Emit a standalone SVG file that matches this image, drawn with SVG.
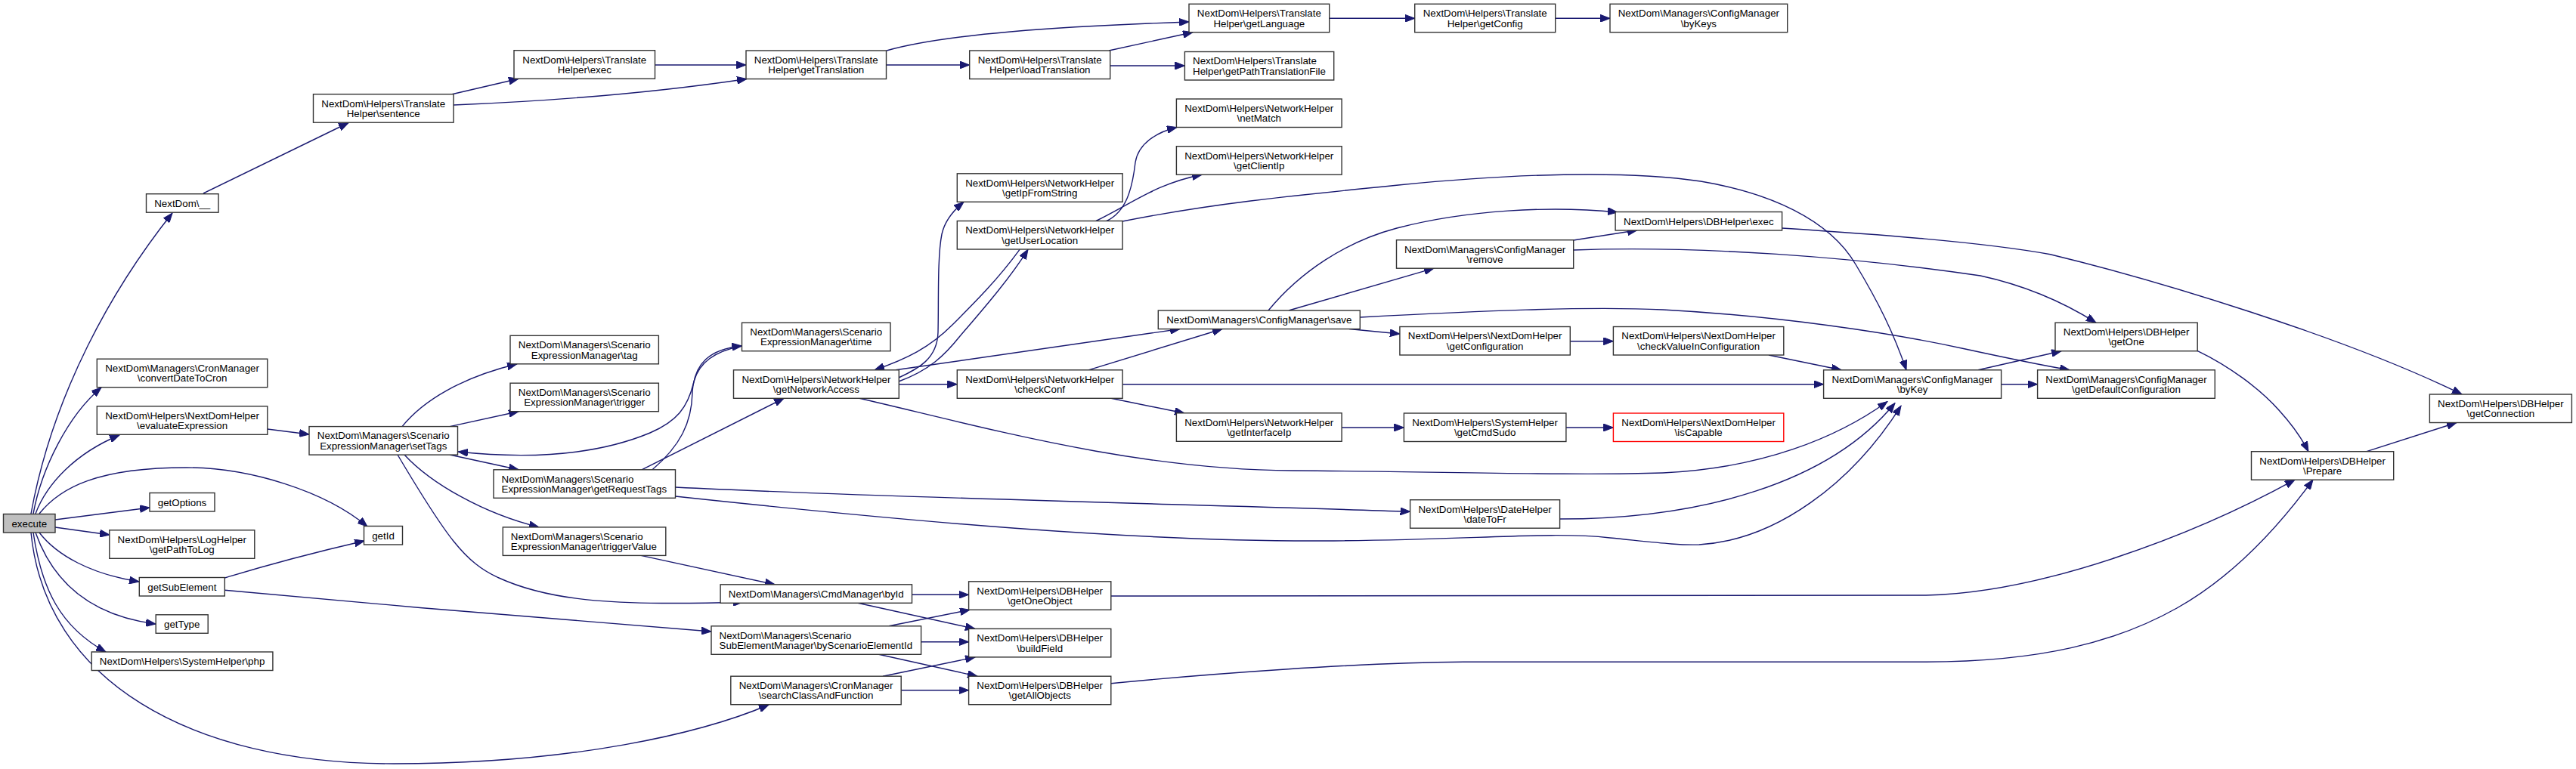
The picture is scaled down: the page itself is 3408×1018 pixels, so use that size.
<svg xmlns="http://www.w3.org/2000/svg" width="3408" height="1018" viewBox="0 0 3408 1018">
<style>
.n rect{fill:#fff;stroke:#333;stroke-width:1.4}
.n.root rect{fill:#bfbfbf}
.n.red rect{stroke:#ff0000}
.n text{font-family:"Liberation Sans",Arial,Helvetica,sans-serif;font-size:13.33px;fill:#000;text-anchor:middle}
.n text.l{text-anchor:start}
.e path{fill:none;stroke:#191970;stroke-width:1.4;marker-end:url(#arr)}
</style>
<defs>
<marker id="arr" markerUnits="userSpaceOnUse" markerWidth="14" markerHeight="10" refX="13" refY="5" orient="auto">
<path d="M0,0 L13,5 L0,10 z" fill="#191970" stroke="#191970" stroke-width="1"/>
</marker>
</defs>
<rect width="3408" height="1018" fill="#fff"/>
<g id="edges" class="e">
<path d="M41,680 C70,520 150,380 228,282"/>
<path d="M44,680 C55,620 90,550 134,513"/>
<path d="M47,680 C62,640 100,600 158,576"/>
<path d="M52,680 C80,645 130,619 247,619 C330,619 430,650 486,697"/>
<path d="M73,688 L198,672"/>
<path d="M73,698 L145,708"/>
<path d="M52,705 C75,735 120,760 184,770"/>
<path d="M47,705 C70,770 120,815 206,826"/>
<path d="M44,705 C55,780 80,830 140,863"/>
<path d="M41,705 C60,900 250,1011 521,1011 C760,1011 930,970 1017,933"/>
<path d="M269,256 L461,162.5"/>
<path d="M598,124.7 L686,104.2"/>
<path d="M600,139 C700,135 850,125 988,104.5"/>
<path d="M866.5,86 L987,86"/>
<path d="M1173,67 C1250,45 1400,35 1573,29"/>
<path d="M1172.5,86 L1282.7,86"/>
<path d="M1467,67 L1578,42.8"/>
<path d="M1468.7,87 L1567.4,87"/>
<path d="M1758.7,24.3 L1871.7,24.3"/>
<path d="M2057.6,24.3 L2130,24.3"/>
<path d="M353.8,568 L409,575"/>
<path d="M532,564.6 C560,530 610,500 684,481.8"/>
<path d="M595,564.6 L686,544.7"/>
<path d="M595,602 L686,621.8"/>
<path d="M535,602 C570,640 640,680 713,697.9"/>
<path d="M526,602 C590,710 615,745 660,765 C730,797 820,802 983,797"/>
<path d="M849,621.8 L1037,527.3"/>
<path d="M863,621.8 C900,590 915,560 916,520 C918,480 940,462 981.5,458"/>
<path d="M981.5,458 C945,465 925,480 918,505 C910,540 895,558 860,573 C800,598 720,610 606,598"/>
<path d="M893.5,645 C1200,660 1600,668 1865.6,677.3"/>
<path d="M893.5,657 C1200,690 1500,717 1750,716 C1950,715 2050,703 2130,712 C2190,718 2220,722 2248,721 C2350,715 2450,640 2515,537.3"/>
<path d="M2063.6,687 C2250,687 2420,640 2507,533.5"/>
<path d="M1137,527.3 C1300,565 1500,622 1710,623 C1900,624 2080,630 2200,626 C2330,620 2430,580 2497,531.5"/>
<path d="M1189,500 C1215,488 1240,475 1241,440 C1242,400 1240,340 1246,310 C1250,292 1262,278 1275,267.5"/>
<path d="M1189,505 C1230,490 1250,470 1270,445 C1300,410 1335,370 1360,330.3"/>
<path d="M1349,330.3 C1320,370 1290,400 1260,430 C1230,460 1200,475 1157,489.8"/>
<path d="M1185,489.8 L1561,435.5"/>
<path d="M1189.3,508.7 L1266.3,508.7"/>
<path d="M1440,489.8 L1617,435.5"/>
<path d="M1485.1,508.7 L2412.6,508.7"/>
<path d="M1470,527.3 L1567,547"/>
<path d="M1775.1,566 L1857.4,566"/>
<path d="M2071.9,566 L2134.4,566"/>
<path d="M1464,292.5 C1490,280 1498,250 1502,215 C1506,190 1530,175 1557,168.5"/>
<path d="M1450,292.5 C1500,268 1530,243 1590,231.2"/>
<path d="M1485,293 C1600,270 1700,260 1850,245 C2000,230 2150,225 2250,240 C2340,255 2420,290 2455,350 C2485,400 2505,440 2522,489.8"/>
<path d="M1678,411 C1720,360 1780,320 1848,302 C1940,278 2050,272 2140,281"/>
<path d="M1705,411 L1897,355.2"/>
<path d="M1799.3,420 C1950,412 2100,405 2200,410 C2350,418 2500,440 2600,462 C2660,475 2710,485 2738,489.8"/>
<path d="M2081.7,318 L2166,304.8"/>
<path d="M2081.7,331 C2250,325 2450,340 2620,365 C2680,378 2730,400 2773,427.2"/>
<path d="M1785,435.5 L1851.9,442"/>
<path d="M2077.3,451.7 L2134.4,451.7"/>
<path d="M2340,470 L2436,489.8"/>
<path d="M2617,489.8 L2727,464.7"/>
<path d="M2647.6,508.7 L2695.6,508.7"/>
<path d="M2357.6,302 C2480,310 2620,320 2712.5,336.7 C2850,370 3100,445 3257,522"/>
<path d="M2907,464.3 C2950,485 2990,515 3015,543 C3035,565 3045,580 3054,597.7"/>
<path d="M3131,597.7 L3250,559.5"/>
<path d="M1469.8,789 C2000,789 2400,790 2548,788 C2700,785 2900,710 3036,635.2"/>
<path d="M1469.8,904.7 C1600,892 1800,877 1936,876.3 L2548,876.3 C2700,876 2800,850 2880,805 C2960,760 3020,690 3060,635.2"/>
<path d="M848,735.4 L1025,773.8"/>
<path d="M297.3,765 C340,752 400,735 482,716"/>
<path d="M297.3,781.3 C500,800 800,826 941,836"/>
<path d="M1206.5,787.3 L1281.6,787.3"/>
<path d="M1135,798.3 L1290,832.4"/>
<path d="M1176,828.8 L1283,807.3"/>
<path d="M1218.6,849.7 L1281.6,849.7"/>
<path d="M1162.6,866.3 L1293,895.2"/>
<path d="M1168,895.2 L1290,870"/>
<path d="M1192.2,913.7 L1281.6,913.7"/>
</g>
<g id="execute" class="n root"><rect x="4.5" y="680.5" width="68.5" height="24.5"/><text x="38.75" y="697.5">execute</text></g>
<g id="nextdom__" class="n"><rect x="193.5" y="256.7" width="95.5" height="24.5"/><text x="241.25" y="273.7">NextDom\__</text></g>
<g id="th_sentence" class="n"><rect x="414.5" y="124.7" width="185.5" height="37.5"/><text x="507.25" y="141.5">NextDom\Helpers\Translate</text><text x="507.25" y="154.9">Helper\sentence</text></g>
<g id="th_exec" class="n"><rect x="680" y="66.7" width="186.5" height="37.5"/><text x="773.25" y="83.5">NextDom\Helpers\Translate</text><text x="773.25" y="96.9">Helper\exec</text></g>
<g id="th_getTranslation" class="n"><rect x="987" y="67" width="185.5" height="37.5"/><text x="1079.75" y="83.8">NextDom\Helpers\Translate</text><text x="1079.75" y="97.2">Helper\getTranslation</text></g>
<g id="th_loadTranslation" class="n"><rect x="1282.7" y="67" width="186" height="37.5"/><text x="1375.7" y="83.8">NextDom\Helpers\Translate</text><text x="1375.7" y="97.2">Helper\loadTranslation</text></g>
<g id="th_getLanguage" class="n"><rect x="1573" y="5.3" width="185.7" height="37.5"/><text x="1665.85" y="22.1">NextDom\Helpers\Translate</text><text x="1665.85" y="35.5">Helper\getLanguage</text></g>
<g id="th_getPathTranslationFile" class="n"><rect x="1567.4" y="68.5" width="197.3" height="37.5"/><text class="l" x="1578" y="85.3">NextDom\Helpers\Translate</text><text class="l" x="1578" y="98.7">Helper\getPathTranslationFile</text></g>
<g id="th_getConfig" class="n"><rect x="1871.7" y="5.3" width="186" height="37.5"/><text x="1964.7" y="22.1">NextDom\Helpers\Translate</text><text x="1964.7" y="35.5">Helper\getConfig</text></g>
<g id="cm_byKeys" class="n"><rect x="2130" y="5.3" width="234.7" height="37.5"/><text x="2247.35" y="22.1">NextDom\Managers\ConfigManager</text><text x="2247.35" y="35.5">\byKeys</text></g>
<g id="nh_netMatch" class="n"><rect x="1556.4" y="131" width="218.7" height="37.5"/><text x="1665.75" y="147.8">NextDom\Helpers\NetworkHelper</text><text x="1665.75" y="161.2">\netMatch</text></g>
<g id="nh_getClientIp" class="n"><rect x="1556.4" y="193.7" width="218.7" height="37.5"/><text x="1665.75" y="210.5">NextDom\Helpers\NetworkHelper</text><text x="1665.75" y="223.9">\getClientIp</text></g>
<g id="nh_getIpFromString" class="n"><rect x="1266.3" y="229.8" width="218.8" height="37.5"/><text x="1375.7" y="246.6">NextDom\Helpers\NetworkHelper</text><text x="1375.7" y="260">\getIpFromString</text></g>
<g id="nh_getUserLocation" class="n"><rect x="1266.3" y="292.5" width="218.8" height="37.5"/><text x="1375.7" y="309.3">NextDom\Helpers\NetworkHelper</text><text x="1375.7" y="322.7">\getUserLocation</text></g>
<g id="db_exec" class="n"><rect x="2137.1" y="280.5" width="220.5" height="24.5"/><text x="2247.35" y="297.5">NextDom\Helpers\DBHelper\exec</text></g>
<g id="cm_remove" class="n"><rect x="1847.5" y="317.7" width="234.2" height="37.5"/><text x="1964.6" y="334.5">NextDom\Managers\ConfigManager</text><text x="1964.6" y="347.9">\remove</text></g>
<g id="cm_save" class="n"><rect x="1532.3" y="411" width="267" height="24.5"/><text x="1665.8" y="428">NextDom\Managers\ConfigManager\save</text></g>
<g id="sem_time" class="n"><rect x="981.5" y="427.2" width="196.5" height="37.5"/><text x="1079.75" y="444">NextDom\Managers\Scenario</text><text x="1079.75" y="457.4">ExpressionManager\time</text></g>
<g id="db_getOne" class="n"><rect x="2719" y="427.2" width="188.2" height="37.5"/><text x="2813.1" y="444">NextDom\Helpers\DBHelper</text><text x="2813.1" y="457.4">\getOne</text></g>
<g id="ndh_getConfiguration" class="n"><rect x="1851.9" y="432.5" width="225.4" height="37.5"/><text x="1964.6" y="449.3">NextDom\Helpers\NextDomHelper</text><text x="1964.6" y="462.7">\getConfiguration</text></g>
<g id="ndh_checkValueInConfiguration" class="n"><rect x="2134.4" y="432.5" width="225.4" height="37.5"/><text x="2247.1" y="449.3">NextDom\Helpers\NextDomHelper</text><text x="2247.1" y="462.7">\checkValueInConfiguration</text></g>
<g id="nh_getNetworkAccess" class="n"><rect x="970.5" y="489.8" width="218.8" height="37.5"/><text x="1079.9" y="506.6">NextDom\Helpers\NetworkHelper</text><text x="1079.9" y="520">\getNetworkAccess</text></g>
<g id="nh_checkConf" class="n"><rect x="1266.3" y="489.8" width="218.8" height="37.5"/><text x="1375.7" y="506.6">NextDom\Helpers\NetworkHelper</text><text x="1375.7" y="520">\checkConf</text></g>
<g id="cm_byKey" class="n"><rect x="2412.6" y="489.8" width="235" height="37.5"/><text x="2530.1" y="506.6">NextDom\Managers\ConfigManager</text><text x="2530.1" y="520">\byKey</text></g>
<g id="cm_getDefaultConfiguration" class="n"><rect x="2695.6" y="489.8" width="234.7" height="37.5"/><text x="2812.95" y="506.6">NextDom\Managers\ConfigManager</text><text x="2812.95" y="520">\getDefaultConfiguration</text></g>
<g id="db_getConnection" class="n"><rect x="3214.4" y="522" width="188" height="37.5"/><text x="3308.4" y="538.8">NextDom\Helpers\DBHelper</text><text x="3308.4" y="552.2">\getConnection</text></g>
<g id="nh_getInterfaceIp" class="n"><rect x="1556.4" y="546.8" width="218.7" height="37.5"/><text x="1665.75" y="563.6">NextDom\Helpers\NetworkHelper</text><text x="1665.75" y="577">\getInterfaceIp</text></g>
<g id="sh_getCmdSudo" class="n"><rect x="1857.4" y="547" width="214.5" height="37.5"/><text x="1964.65" y="563.8">NextDom\Helpers\SystemHelper</text><text x="1964.65" y="577.2">\getCmdSudo</text></g>
<g id="ndh_isCapable" class="n red"><rect x="2134.4" y="547" width="225.4" height="37.5"/><text x="2247.1" y="563.8">NextDom\Helpers\NextDomHelper</text><text x="2247.1" y="577.2">\isCapable</text></g>
<g id="db_Prepare" class="n"><rect x="2978.5" y="597.7" width="188.2" height="37.5"/><text x="3072.6" y="614.5">NextDom\Helpers\DBHelper</text><text x="3072.6" y="627.9">\Prepare</text></g>
<g id="dh_dateToFr" class="n"><rect x="1865.6" y="661.7" width="198" height="37.5"/><text x="1964.6" y="678.5">NextDom\Helpers\DateHelper</text><text x="1964.6" y="691.9">\dateToFr</text></g>
<g id="sem_tag" class="n"><rect x="675" y="444.3" width="196.4" height="37.5"/><text x="773.2" y="461.1">NextDom\Managers\Scenario</text><text x="773.2" y="474.5">ExpressionManager\tag</text></g>
<g id="sem_trigger" class="n"><rect x="675" y="507.2" width="196.4" height="37.5"/><text x="773.2" y="524">NextDom\Managers\Scenario</text><text x="773.2" y="537.4">ExpressionManager\trigger</text></g>
<g id="crm_convertDateToCron" class="n"><rect x="128.3" y="475.2" width="225.5" height="37.5"/><text x="241.05" y="492">NextDom\Managers\CronManager</text><text x="241.05" y="505.4">\convertDateToCron</text></g>
<g id="ndh_evaluateExpression" class="n"><rect x="128.3" y="537.8" width="225.5" height="37.5"/><text x="241.05" y="554.6">NextDom\Helpers\NextDomHelper</text><text x="241.05" y="568">\evaluateExpression</text></g>
<g id="sem_setTags" class="n"><rect x="409" y="564.6" width="196.5" height="37.5"/><text x="507.25" y="581.4">NextDom\Managers\Scenario</text><text x="507.25" y="594.8">ExpressionManager\setTags</text></g>
<g id="sem_getRequestTags" class="n"><rect x="653" y="621.8" width="240.5" height="37.5"/><text class="l" x="663.5" y="638.6">NextDom\Managers\Scenario</text><text class="l" x="663.5" y="652">ExpressionManager\getRequestTags</text></g>
<g id="sem_triggerValue" class="n"><rect x="665.3" y="697.9" width="215.5" height="37.5"/><text class="l" x="675.8" y="714.7">NextDom\Managers\Scenario</text><text class="l" x="675.8" y="728.1">ExpressionManager\triggerValue</text></g>
<g id="getOptions" class="n"><rect x="198" y="652.5" width="86" height="24.5"/><text x="241" y="669.5">getOptions</text></g>
<g id="lh_getPathToLog" class="n"><rect x="144.8" y="701.8" width="192" height="37.5"/><text x="240.8" y="718.6">NextDom\Helpers\LogHelper</text><text x="240.8" y="732">\getPathToLog</text></g>
<g id="getId" class="n"><rect x="481.5" y="696.5" width="51" height="24.5"/><text x="507" y="713.5">getId</text></g>
<g id="getSubElement" class="n"><rect x="184.3" y="764.5" width="113" height="24.5"/><text x="240.8" y="781.5">getSubElement</text></g>
<g id="getType" class="n"><rect x="206.2" y="813.8" width="69" height="24.5"/><text x="240.7" y="830.8">getType</text></g>
<g id="sh_php" class="n"><rect x="121.2" y="863" width="239.7" height="24.5"/><text x="241.05" y="880">NextDom\Helpers\SystemHelper\php</text></g>
<g id="cmd_byId" class="n"><rect x="953.1" y="773.8" width="253.4" height="24.5"/><text x="1079.8" y="790.8">NextDom\Managers\CmdManager\byId</text></g>
<g id="db_getOneObject" class="n"><rect x="1281.6" y="769.8" width="188.2" height="37.5"/><text x="1375.7" y="786.6">NextDom\Helpers\DBHelper</text><text x="1375.7" y="800">\getOneObject</text></g>
<g id="ssem_byScenarioElementId" class="n"><rect x="941" y="828.8" width="277.6" height="37.5"/><text class="l" x="951.5" y="845.6">NextDom\Managers\Scenario</text><text class="l" x="951.5" y="859">SubElementManager\byScenarioElementId</text></g>
<g id="db_buildField" class="n"><rect x="1281.6" y="832.4" width="188.2" height="37.5"/><text x="1375.7" y="849.2">NextDom\Helpers\DBHelper</text><text x="1375.7" y="862.6">\buildField</text></g>
<g id="crm_searchClassAndFunction" class="n"><rect x="966.8" y="895.2" width="225.4" height="37.5"/><text x="1079.5" y="912">NextDom\Managers\CronManager</text><text x="1079.5" y="925.4">\searchClassAndFunction</text></g>
<g id="db_getAllObjects" class="n"><rect x="1281.6" y="895.2" width="188.2" height="37.5"/><text x="1375.7" y="912">NextDom\Helpers\DBHelper</text><text x="1375.7" y="925.4">\getAllObjects</text></g>
</svg>
